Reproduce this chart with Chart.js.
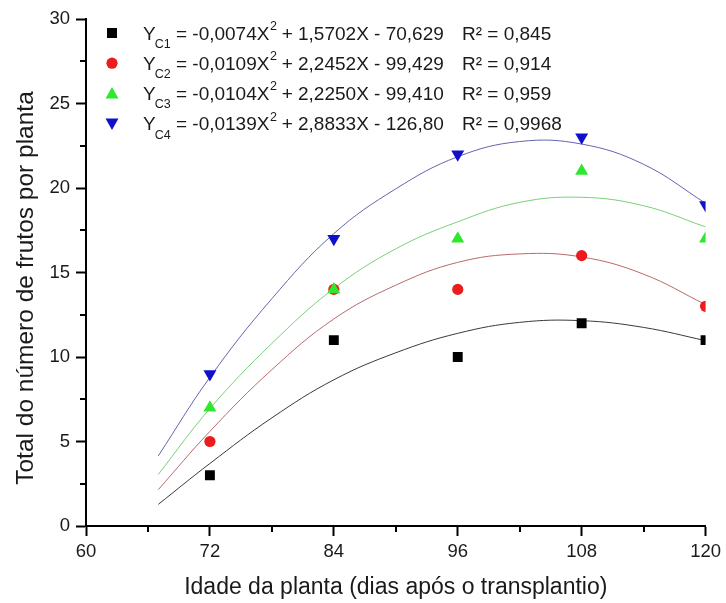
<!DOCTYPE html>
<html>
<head>
<meta charset="utf-8">
<script src="https://cdn.jsdelivr.net/npm/chart.js@4/dist/chart.umd.min.js"></script>
<style>
    html, body { margin: 0; padding: 0; background: #fff; }
    #chart { display: block; }
</style>
</head>
<body>
<canvas id="chart" width="726" height="603"></canvas>
<script>
// observed values (dias após o transplantio)
const days = [72, 84, 96, 108, 120];
const c1Points = [3, 11, 10, 12, 11];
const c2Points = [5, 14, 14, 16, 13];
const c3Points = [7, 14, 17, 21, 17];
const c4Points = [9, 17, 22, 23, 19];

// fitted curves, values
const curveDays = [67, 72, 78, 84, 90, 96, 102, 108, 114, 120];
const c1Curve = [1.28, 3.7, 6.4, 8.65, 10.25, 11.4, 12.05, 12.15, 11.75, 10.97];
const c2Curve = [2.15, 5.6, 9.25, 12.25, 14.25, 15.6, 16.1, 15.92, 14.9, 13.1];
const c3Curve = [3.05, 6.95, 10.8, 14.05, 16.4, 18.0, 19.15, 19.45, 18.95, 17.7];
const c4Curve = [4.15, 8.8, 13.45, 17.3, 19.95, 21.85, 22.75, 22.6, 21.4, 19.1];

const xTicks = [60, 72, 84, 96, 108, 120];
const yTicks = [0, 5, 10, 15, 20, 25, 30];

// legend rows: subscript, quadratic coef, rest of equation, R²
const eqSubs = ['C1', 'C2', 'C3', 'C4'];
const eqCoefs = ['-0,0074', '-0,0109', '-0,0104', '-0,0139'];
const eqRest = ['+ 1,5702X - 70,629', '+ 2,2452X - 99,429', '+ 2,2250X - 99,410', '+ 2,8833X - 126,80'];
const eqR2 = ['0,845', '0,914', '0,959', '0,9968'];

const yTitle = 'Total do número de frutos por planta';
const xTitle = 'Idade da planta (dias após o transplantio)';

const FONT = "'Liberation Sans', Arial, sans-serif";
const TEXT = '#1a1a1a';
const markerColors = ['#000000', '#ec1c1c', '#2ee82e', '#1010cc'];
const curveColors = ['#3a3a3a', '#b86a6a', '#78d078', '#6464b0'];
const shapes = ['rect', 'circle', 'triangle', 'invtriangle'];

function toXY(xs, ys) {
    return xs.map((x, i) => ({ x: x, y: ys[i] }));
}

function drawMarker(ctx, shape, x, y, color) {
    ctx.fillStyle = color;
    ctx.beginPath();
    if (shape === 'rect') {
        ctx.rect(x - 5, y - 5, 10, 10);
    } else if (shape === 'circle') {
        ctx.arc(x, y, 5.6, 0, Math.PI * 2);
    } else if (shape === 'triangle') {
        ctx.moveTo(x, y - 6.5);
        ctx.lineTo(x + 6.5, y + 5);
        ctx.lineTo(x - 6.5, y + 5);
    } else {
        ctx.moveTo(x, y + 6.5);
        ctx.lineTo(x + 6.5, y - 5);
        ctx.lineTo(x - 6.5, y - 5);
    }
    ctx.closePath();
    ctx.fill();
}

// minor ticks halfway between the labelled ones
const minorTicks = {
    id: 'minorTicks',
    afterDraw(chart) {
        const ctx = chart.ctx;
        const xs = chart.scales.x, ys = chart.scales.y;
        const area = chart.chartArea;
        ctx.save();
        ctx.strokeStyle = '#000';
        ctx.lineWidth = 2;
        ctx.beginPath();
        for (let i = 0; i < xTicks.length - 1; i++) {
            const px = Math.round(xs.getPixelForValue((xTicks[i] + xTicks[i + 1]) / 2));
            ctx.moveTo(px, area.bottom);
            ctx.lineTo(px, area.bottom + 6);
        }
        for (let i = 0; i < yTicks.length - 1; i++) {
            const py = Math.round(ys.getPixelForValue((yTicks[i] + yTicks[i + 1]) / 2));
            ctx.moveTo(area.left, py);
            ctx.lineTo(area.left - 6, py);
        }
        ctx.stroke();
        ctx.restore();
    }
};

// rotated y title, a bit below the plot centre like the original
const yTitlePlugin = {
    id: 'yTitle',
    afterDraw(chart) {
        const ctx = chart.ctx;
        ctx.save();
        ctx.translate(33, 288);
        ctx.rotate(-Math.PI / 2);
        ctx.font = '24.5px ' + FONT;
        ctx.fillStyle = TEXT;
        ctx.textAlign = 'center';
        ctx.textBaseline = 'alphabetic';
        ctx.fillText(yTitle, 0, 0);
        ctx.restore();
    }
};

// legend with subscripts / superscripts
const eqLegend = {
    id: 'eqLegend',
    afterDraw(chart) {
        const ctx = chart.ctx;
        const big = '19px ' + FONT;
        const small = '12.5px ' + FONT;
        ctx.save();
        ctx.textBaseline = 'alphabetic';
        ctx.textAlign = 'left';
        eqSubs.forEach((sub, i) => {
            const base = 39.5 + i * 30.2;
            drawMarker(ctx, shapes[i], 112, base - 6.5, markerColors[i]);
            ctx.fillStyle = TEXT;
            let x = 143;
            ctx.font = big;
            ctx.fillText('Y', x, base);
            x += ctx.measureText('Y').width - 1;
            ctx.font = small;
            ctx.fillText(sub, x, base + 8.5);
            x += ctx.measureText(sub).width;
            ctx.font = big;
            const mid = ' = ' + eqCoefs[i] + 'X';
            ctx.fillText(mid, x, base);
            x += ctx.measureText(mid).width;
            ctx.font = small;
            ctx.fillText('2', x + 0.5, base - 9.5);
            x += ctx.measureText('2').width;
            ctx.font = big;
            ctx.fillText(' ' + eqRest[i], x, base);
            ctx.fillText('R² = ' + eqR2[i], 462, base);
        });
        ctx.restore();
    }
};

const pointSets = [c1Points, c2Points, c3Points, c4Points];
const curveSets = [c1Curve, c2Curve, c3Curve, c4Curve];
const pointStyles = ['rect', 'circle', 'triangle', 'triangle'];
const pointRadii = [7, 5.6, 7.5, 7.5];

const datasets = [];
curveSets.forEach((vals, i) => {
    datasets.push({
        type: 'line',
        label: 'fit C' + (i + 1),
        data: toXY(curveDays, vals),
        borderColor: curveColors[i],
        borderWidth: 1,
        pointRadius: 0,
        tension: 0.4,
        fill: false,
        order: 10
    });
});
pointSets.forEach((vals, i) => {
    datasets.push({
        type: 'scatter',
        label: 'C' + (i + 1),
        data: toXY(days, vals),
        backgroundColor: markerColors[i],
        borderColor: markerColors[i],
        borderWidth: 0,
        pointStyle: pointStyles[i],
        pointRadius: pointRadii[i],
        rotation: i === 3 ? 180 : 0,
        showLine: false,
        clip: 0,
        order: 5 - i
    });
});

new Chart(document.getElementById('chart'), {
    type: 'scatter',
    data: { datasets: datasets },
    options: {
        responsive: false,
        animation: false,
        devicePixelRatio: 1,
        layout: { padding: { left: 0, right: 18, top: 19, bottom: 0 } },
        plugins: {
            legend: { display: false },
            tooltip: { enabled: false }
        },
        scales: {
            x: {
                type: 'linear',
                min: 60,
                max: 120,
                afterBuildTicks: s => { s.ticks = xTicks.map(v => ({ value: v })); },
                afterFit: s => { s.height = 77; },
                border: { color: '#000', width: 2 },
                grid: { drawOnChartArea: false, tickLength: 10, tickWidth: 2, tickColor: '#000' },
                ticks: {
                    color: TEXT,
                    font: { family: FONT, size: 18.5 },
                    padding: 5,
                    maxRotation: 0,
                    autoSkip: false
                },
                title: {
                    display: true,
                    text: xTitle,
                    color: TEXT,
                    font: { family: FONT, size: 23 },
                    padding: { top: 0, bottom: 2 }
                }
            },
            y: {
                type: 'linear',
                min: 0,
                max: 30,
                afterBuildTicks: s => { s.ticks = yTicks.map(v => ({ value: v })); },
                afterFit: s => { s.width = 86; },
                border: { color: '#000', width: 2 },
                grid: { drawOnChartArea: false, tickLength: 10, tickWidth: 2, tickColor: '#000' },
                ticks: {
                    color: TEXT,
                    font: { family: FONT, size: 18.5 },
                    padding: 6,
                    autoSkip: false
                }
            }
        }
    },
    plugins: [minorTicks, yTitlePlugin, eqLegend]
});
</script>
</body>
</html>
